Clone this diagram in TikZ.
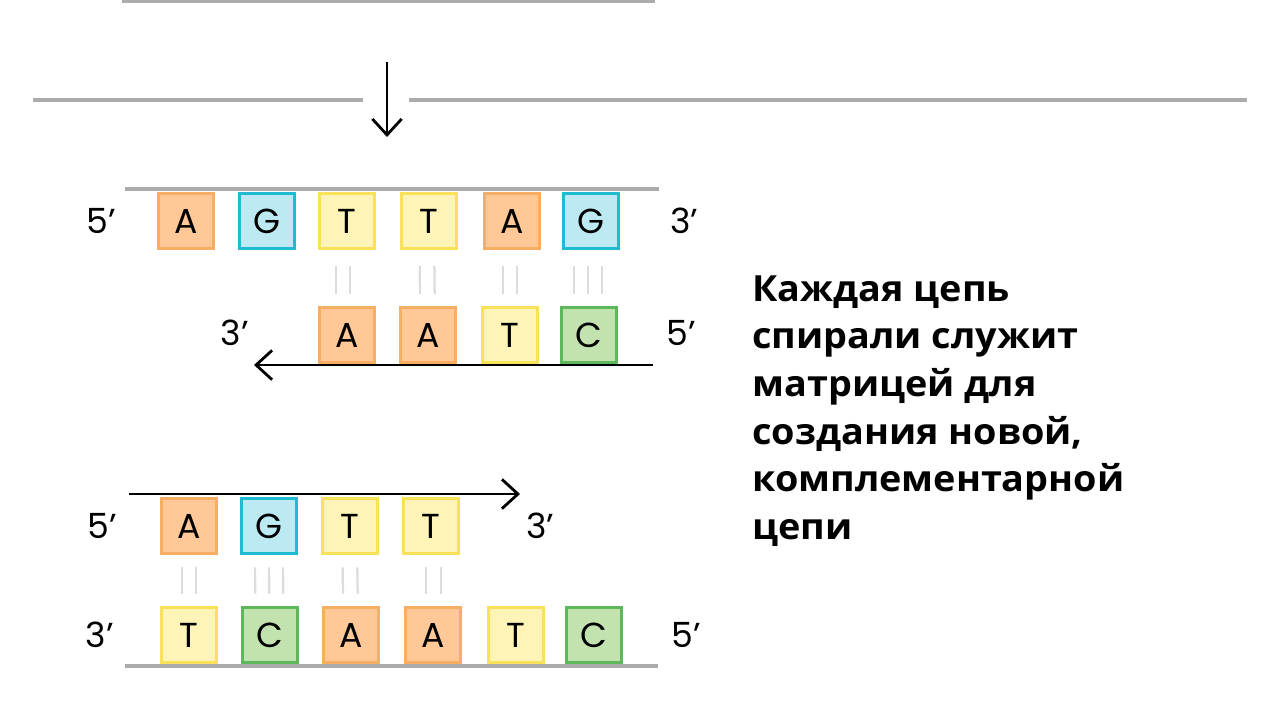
\documentclass[tikz,border=0pt]{standalone}
\usepackage{fontspec}
\usetikzlibrary{arrows.meta}
\newfontfamily\basefont{Poppins}
\newfontfamily\txtfont[FakeStretch=1.05]{Open Sans}

\definecolor{orangefill}{RGB}{255,200,150}
\definecolor{orangeline}{RGB}{247,174,99}
\definecolor{bluefill}{RGB}{189,234,242}
\definecolor{blueline}{RGB}{31,187,211}
\definecolor{yellowfill}{RGB}{255,244,184}
\definecolor{yellowline}{RGB}{249,225,90}
\definecolor{greenfill}{RGB}{194,226,176}
\definecolor{greenline}{RGB}{93,184,92}
\definecolor{stranggray}{RGB}{172,172,172}
\definecolor{bondgray}{RGB}{220,220,220}

\tikzset{every picture/.style={line width=0.75pt}}
\tikzset{
  nuc/.style={draw, line width=2.2pt, minimum width=41pt, minimum height=41pt, inner sep=0pt, font=\basefont\fontsize{26}{30}\selectfont},
  nucA/.style={nuc, draw=orangeline, fill=orangefill},
  nucG/.style={nuc, draw=blueline, fill=bluefill},
  nucT/.style={nuc, draw=yellowline, fill=yellowfill},
  nucC/.style={nuc, draw=greenline, fill=greenfill},
  endlabel/.style={inner sep=0pt, font=\basefont\fontsize{26}{30}\selectfont},
  strand/.style={draw=stranggray, line width=2.3pt},
  bond/.style={draw=bondgray, line width=1.7pt},
  newstrand/.style={line width=2.1pt, -{Straight Barb[length=12pt,width=22pt]}}
}

\begin{document}
\begin{tikzpicture}[x=0.75pt,y=0.75pt,yscale=-1,xscale=1]
\clip (0,0) rectangle (1280,719);

%Previous step, cut off at the top
\node[nucT] (p1) at (189,-26.5) {};
\node[nucC] (p2) at (270,-26.5) {};
\node[nucA] (p3) at (351,-26.5) {};
\node[nucA] (p4) at (433,-26.5) {};
\node[nucT] (p5) at (516,-26.5) {};
\node[nucC] (p6) at (594,-26.5) {};
\draw[strand] (122,1) -- (655,1) ;

%Separator and step arrow
\draw[strand] (33,100) -- (363,100) ;
\draw[strand] (409,100) -- (1247,100) ;
\coordinate (s1) at (387,62) ;
\coordinate (s2) at (387,137) ;
\draw[newstrand] (s1) -- (s2) ;

%Upper pair: old strand
\draw[strand] (125,189) -- (659,189) ;
\node[nucA] (u1) at (186,221) {A};
\node[nucG] (u2) at (267,221) {G};
\node[nucT] (u3) at (347,221) {T};
\node[nucT] (u4) at (429,221) {T};
\node[nucA] (u5) at (512,221) {A};
\node[nucG] (u6) at (591,221) {G};
\node[endlabel] (u5p) at (101,221) {5’};
\node[endlabel] (u3p) at (684,221) {3’};

%Upper pair: new strand
\node[nucA] (v1) at (347,335) {A};
\node[nucA] (v2) at (428,335) {A};
\node[nucT] (v3) at (510,335) {T};
\node[nucC] (v4) at (589,335) {C};
\node[endlabel] (v3p) at (235,333) {3’};
\node[endlabel] (v5p) at (681,333) {5’};
\coordinate (va1) at (653,365) ;
\coordinate (va2) at (254,365) ;
\draw[newstrand] (va1) -- (va2) ;

%Upper pair: bonds
\draw[bond] ([xshift=-8pt,yshift=12pt]u3.south) -- ([xshift=-8pt,yshift=-9pt]v1.north) ;
\draw[bond] ([xshift=2.5pt,yshift=12pt]u3.south) -- ([xshift=2.5pt,yshift=-9pt]v1.north) ;
\draw[bond] ([xshift=-7pt,yshift=12pt]u4.south) -- ([xshift=-6pt,yshift=-9pt]v2.north) ;
\draw[bond] ([xshift=4pt,yshift=12pt]u4.south) -- ([xshift=5pt,yshift=-9pt]v2.north) ;
\draw[bond] ([xshift=-7pt,yshift=12pt]u5.south) -- ([xshift=-5.5pt,yshift=-9pt]v3.north) ;
\draw[bond] ([xshift=4pt,yshift=12pt]u5.south) -- ([xshift=5.5pt,yshift=-9pt]v3.north) ;
\draw[bond] ([xshift=-13pt,yshift=12pt]u6.south) -- ([xshift=-11.5pt,yshift=-9pt]v4.north) ;
\draw[bond] ([xshift=-2.5pt,yshift=12pt]u6.south) -- ([xshift=-1pt,yshift=-9pt]v4.north) ;
\draw[bond] ([xshift=8pt,yshift=12pt]u6.south) -- ([xshift=9.5pt,yshift=-9pt]v4.north) ;

%Lower pair: new strand
\coordinate (la1) at (129,494) ;
\coordinate (la2) at (520,494) ;
\draw[newstrand] (la1) -- (la2) ;
\node[nucA] (l1) at (189,526) {A};
\node[nucG] (l2) at (269,526) {G};
\node[nucT] (l3) at (350,526) {T};
\node[nucT] (l4) at (431,526) {T};
\node[endlabel] (l5p) at (102,526) {5’};
\node[endlabel] (l3p) at (540,526) {3’};

%Lower pair: old strand
\node[nucT] (m1) at (189,635) {T};
\node[nucC] (m2) at (270,635) {C};
\node[nucA] (m3) at (351,635) {A};
\node[nucA] (m4) at (433,635) {A};
\node[nucT] (m5) at (516,635) {T};
\node[nucC] (m6) at (594,635) {C};
\node[endlabel] (m3p) at (100,635) {3’};
\node[endlabel] (m5p) at (686,635) {5’};
\draw[strand] (125,666) -- (658,666) ;

%Lower pair: bonds
\draw[bond] ([xshift=-5.5pt,yshift=9.5pt]l1.south) -- ([xshift=-5.5pt,yshift=-9.5pt]m1.north) ;
\draw[bond] ([xshift=5.5pt,yshift=9.5pt]l1.south) -- ([xshift=5.5pt,yshift=-9.5pt]m1.north) ;
\draw[bond] ([xshift=-10.5pt,yshift=9.5pt]l2.south) -- ([xshift=-11pt,yshift=-9.5pt]m2.north) ;
\draw[bond] ([yshift=9.5pt]l2.south) -- ([xshift=-0.5pt,yshift=-9.5pt]m2.north) ;
\draw[bond] ([xshift=10.5pt,yshift=9.5pt]l2.south) -- ([xshift=10pt,yshift=-9.5pt]m2.north) ;
\draw[bond] ([xshift=-5.5pt,yshift=9.5pt]l3.south) -- ([xshift=-6pt,yshift=-9.5pt]m3.north) ;
\draw[bond] ([xshift=5.5pt,yshift=9.5pt]l3.south) -- ([xshift=5pt,yshift=-9.5pt]m3.north) ;
\draw[bond] ([xshift=-3.5pt,yshift=9.5pt]l4.south) -- ([xshift=-5pt,yshift=-9.5pt]m4.north) ;
\draw[bond] ([xshift=7.5pt,yshift=9.5pt]l4.south) -- ([xshift=6pt,yshift=-9.5pt]m4.north) ;

% Text Node
\node[anchor=north west, inner sep=0pt, align=left, font=\txtfont\bfseries\fontsize{27}{35.7}\selectfont] (note) at (752,275) {Каждая цепь\\спирали служит\\матрицей для\\создания новой,\\комплементарной\\цепи};

\end{tikzpicture}
\end{document}
